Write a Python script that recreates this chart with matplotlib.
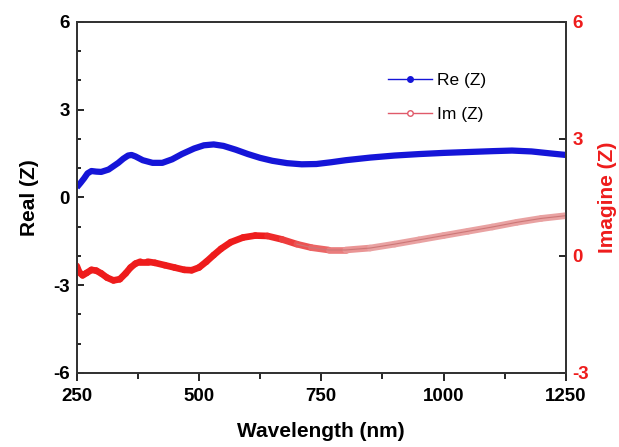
import matplotlib.pyplot as plt
from matplotlib.ticker import MultipleLocator
from matplotlib.lines import Line2D
from matplotlib.colors import to_rgb

plt.rcParams['font.family'] = ['Liberation Sans', 'DejaVu Sans']
plt.rcParams['axes.unicode_minus'] = False

# Re(Z), left axis
re_wl = [250, 258, 265, 272, 280, 290, 300, 315, 335, 345, 355, 362, 370, 385, 405, 425, 445,
         465, 490, 510, 530, 550, 575, 600, 625, 650, 680, 710, 740, 770, 800, 850, 900, 950,
         1000, 1050, 1100, 1140, 1180, 1220, 1250]
re_z = [0.34, 0.5, 0.65, 0.82, 0.9, 0.88, 0.87, 0.95, 1.18, 1.32, 1.43, 1.45, 1.4, 1.27, 1.18,
        1.18, 1.3, 1.48, 1.67, 1.78, 1.81, 1.76, 1.63, 1.48, 1.35, 1.25, 1.17, 1.13, 1.14, 1.2,
        1.27, 1.36, 1.43, 1.48, 1.52, 1.55, 1.58, 1.6, 1.57, 1.5, 1.45]

# Im(Z), right axis
im_wl = [250, 255, 262, 270, 280, 290, 300, 312, 325, 338, 350, 360, 370, 380, 395, 410, 430,
         450, 470, 485, 500, 515, 530, 545, 565, 590, 615, 640, 670, 700, 730, 765, 800, 850,
         900, 950, 1000, 1050, 1100, 1150, 1200, 1250]
im_z = [-0.26, -0.42, -0.5, -0.44, -0.36, -0.38, -0.45, -0.56, -0.63, -0.6, -0.45, -0.3, -0.2,
        -0.15, -0.15, -0.18, -0.24, -0.3, -0.36, -0.37, -0.3, -0.15, 0.02, 0.18, 0.35, 0.47,
        0.52, 0.51, 0.42, 0.3, 0.21, 0.15, 0.15, 0.2, 0.3, 0.41, 0.52, 0.63, 0.74, 0.86, 0.96,
        1.03]

RED = '#ee1c1c'
PINK = '#e9a2a2'

fig = plt.figure(figsize=(6.19, 4.47), dpi=100)
ax = fig.add_axes([0.124, 0.166, 0.79, 0.785])
ax2 = ax.twinx()

ax.plot(re_wl, re_z, color='#1515d8', lw=4.5, solid_joinstyle='round', solid_capstyle='butt')

# dense part of Im(Z) looks solid red, sparse part shows pinkish hollow circles
r0, r1 = to_rgb(RED), to_rgb(PINK)
for i in range(len(im_wl) - 1):
    t = min(max((im_wl[i] - 620) / 200, 0), 1)
    c = tuple(a + (b - a) * t for a, b in zip(r0, r1))
    ax2.plot(im_wl[i:i + 2], im_z[i:i + 2], color=c, lw=4.8,
             solid_capstyle='round', solid_joinstyle='round')
ax2.plot([w for w in im_wl if w >= 700], im_z[im_wl.index(700):], color='#cc7777', lw=0.8)

ax.set_xlim(250, 1250)
ax.set_ylim(-6, 6)
ax2.set_ylim(-3, 6)

ax.xaxis.set_major_locator(MultipleLocator(250))
ax.xaxis.set_minor_locator(MultipleLocator(125))
ax.yaxis.set_major_locator(MultipleLocator(3))
ax.yaxis.set_minor_locator(MultipleLocator(1))
ax2.yaxis.set_major_locator(MultipleLocator(3))

ax.tick_params(axis='x', which='both', direction='out', top=False, labelsize=13.5, pad=5)
ax.tick_params(axis='x', which='major', length=6, width=1.2)
ax.tick_params(axis='x', which='minor', length=4, width=1.2)
ax.tick_params(axis='y', which='both', direction='in', right=False, labelsize=13.5, pad=5)
ax.tick_params(axis='y', which='major', length=5, width=1.2)
ax.tick_params(axis='y', which='minor', length=3, width=1.2)
ax2.tick_params(axis='y', direction='in', length=5, width=1.2, labelsize=13.5,
                labelcolor=RED, pad=5)

for lab in ax.get_xticklabels() + ax.get_yticklabels() + ax2.get_yticklabels():
    lab.set_fontweight('bold')

for a in (ax, ax2):
    for s in a.spines.values():
        s.set_linewidth(1.3)
        s.set_color('#333333')

ax.set_xlabel('Wavelength (nm)', fontsize=15, fontweight='bold', labelpad=12)
ax.set_ylabel('Real (Z)', fontsize=15, fontweight='bold', labelpad=10)
ax2.set_ylabel('Imagine (Z)', fontsize=15, fontweight='bold', color=RED, labelpad=6)

handles = [
    Line2D([], [], color='#1515d8', lw=1, marker='o', markersize=4,
           markerfacecolor='#1515d8', markeredgecolor='#1515d8'),
    Line2D([], [], color='#e05a6a', lw=1, marker='o', markersize=4,
           markerfacecolor='white', markeredgecolor='#e05a6a'),
]
ax.legend(handles, ['Re (Z)', 'Im (Z)'], loc='upper left', bbox_to_anchor=(0.605, 0.9),
          frameon=False, fontsize=12.5, handlelength=2.5, labelspacing=1.1, handletextpad=0.3)

fig.savefig('out.png', dpi=100)
